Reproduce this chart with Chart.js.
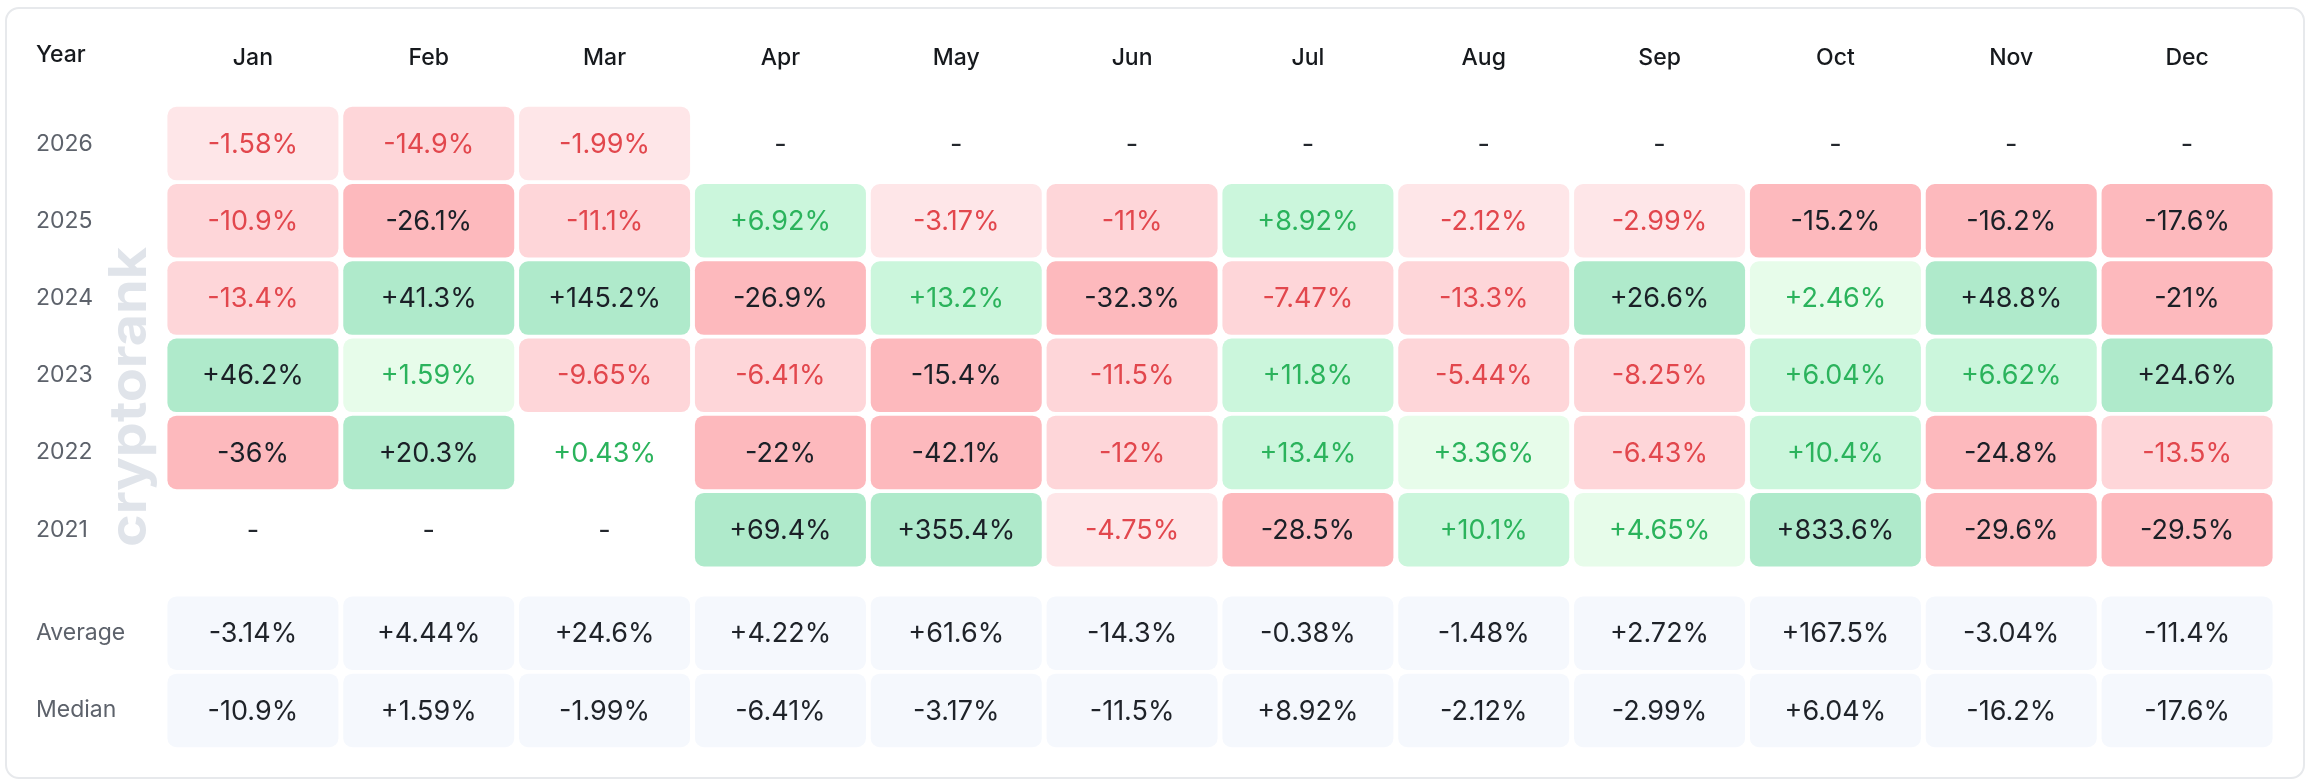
<!DOCTYPE html>
<html>
<head>
<meta charset="utf-8">
<script src="https://cdn.jsdelivr.net/npm/chart.js@4.4.1/dist/chart.umd.min.js"></script>
<style>
  html, body { margin: 0; padding: 0; background: #ffffff; }
  #wrap { position: relative; width: 2314px; height: 784px; overflow: hidden; }
  #card { position: absolute; left: 5px; top: 7px; width: 2300px; height: 772px;
          border: 2px solid #e7e9ec; border-radius: 14px; box-sizing: border-box; background: #fff; }
  #c { position: absolute; left: 0; top: 0; }
</style>
</head>
<body>
<div id="wrap">
  <div id="card"></div>
  <canvas id="c" width="2314" height="784"></canvas>
</div>
<script>
// ---------------- data ----------------
const headerLabel = 'Year';
const months = ['Jan','Feb','Mar','Apr','May','Jun','Jul','Aug','Sep','Oct','Nov','Dec'];
const years = ['2026','2025','2024','2023','2022','2021'];
const v2026 = [-1.58, -14.9, -1.99, null, null, null, null, null, null, null, null, null];
const v2025 = [-10.9, -26.1, -11.1, 6.92, -3.17, -11, 8.92, -2.12, -2.99, -15.2, -16.2, -17.6];
const v2024 = [-13.4, 41.3, 145.2, -26.9, 13.2, -32.3, -7.47, -13.3, 26.6, 2.46, 48.8, -21];
const v2023 = [46.2, 1.59, -9.65, -6.41, -15.4, -11.5, 11.8, -5.44, -8.25, 6.04, 6.62, 24.6];
const v2022 = [-36, 20.3, 0.43, -22, -42.1, -12, 13.4, 3.36, -6.43, 10.4, -24.8, -13.5];
const v2021 = [null, null, null, 69.4, 355.4, -4.75, -28.5, 10.1, 4.65, 833.6, -29.6, -29.5];
const summaryLabels = ['Average', 'Median'];
const averageRow = [-3.14, 4.44, 24.6, 4.22, 61.6, -14.3, -0.38, -1.48, 2.72, 167.5, -3.04, -11.4];
const medianRow = [-10.9, 1.59, -1.99, -6.41, -3.17, -11.5, 8.92, -2.12, -2.99, 6.04, -16.2, -17.6];
const yearRows = [v2026, v2025, v2024, v2023, v2022, v2021];
const summaryRows = [averageRow, medianRow];

// ---------------- layout (row positions on the y scale) ----------------
const HEADER_POS = -0.146;
const ROW_POS = [1, 2, 3, 4, 5, 6];
const SUMMARY_POS = [7.34, 8.34];
const HALF = 0.476;

const FONT = 'Inter, "Noto Sans", "DejaVu Sans", sans-serif';

function cellStyle(v) {
  if (v >= 15) return { bg: '#afeacb', fg: '#1b2027' };
  if (v >= 5)  return { bg: '#cbf6dc', fg: '#2bb35c' };
  if (v >= 1)  return { bg: '#e7fcea', fg: '#2bb35c' };
  if (v >= 0)  return { bg: 'rgba(255,255,255,0)', fg: '#2bb35c' };
  if (v > -5)  return { bg: '#fee6e8', fg: '#e2474d' };
  if (v > -15) return { bg: '#fed6d9', fg: '#e2474d' };
  return { bg: '#fdb9bd', fg: '#1b2027' };
}
function fmt(v) { return (v > 0 ? '+' : '') + String(v) + '%'; }
function rangeData(vals, pos) { return vals.map(v => v === null ? null : [pos - HALF, pos + HALF]); }

const datasets = [];
yearRows.forEach((vals, r) => {
  datasets.push({
    label: years[r],
    data: rangeData(vals, ROW_POS[r]),
    backgroundColor: vals.map(v => v === null ? 'rgba(0,0,0,0)' : cellStyle(v).bg),
    values: vals, pos: ROW_POS[r], summary: false
  });
});
summaryRows.forEach((vals, r) => {
  datasets.push({
    label: summaryLabels[r],
    data: rangeData(vals, SUMMARY_POS[r]),
    backgroundColor: '#f5f8fd',
    values: vals, pos: SUMMARY_POS[r], summary: true
  });
});
datasets.forEach(ds => {
  ds.grouped = false;
  ds.barPercentage = 0.9725;
  ds.categoryPercentage = 1;
  ds.borderRadius = 9;
  ds.borderSkipped = false;
  ds.borderWidth = 0;
});

const tickValues = [HEADER_POS].concat(ROW_POS, SUMMARY_POS);
const tickLabels = [headerLabel].concat(years, summaryLabels);

const cellText = {
  id: 'cellText',
  afterDatasetsDraw(chart) {
    const { ctx } = chart;
    const xs = chart.scales.x, ys = chart.scales.y;
    ctx.save();
    ctx.textAlign = 'center';
    ctx.textBaseline = 'middle';
    ctx.font = '400 27px ' + FONT;
    chart.data.datasets.forEach(ds => {
      const py = ys.getPixelForValue(ds.pos);
      ds.values.forEach((v, i) => {
        const px = xs.getPixelForValue(i);
        let txt, col;
        if (v === null) { txt = '-'; col = '#23272d'; }
        else { txt = fmt(v); col = ds.summary ? '#1f2329' : cellStyle(v).fg; }
        ctx.fillStyle = col;
        ctx.fillText(txt, px, py + 1);
      });
    });
    ctx.restore();
  }
};

const watermark = {
  id: 'watermark',
  beforeDatasetsDraw(chart) {
    const { ctx } = chart;
    ctx.save();
    ctx.translate(130, 397);
    ctx.rotate(-Math.PI / 2);
    ctx.font = '700 52px ' + FONT;
    const w = ctx.measureText('cryptorank').width;
    ctx.scale(300 / w, 1);
    ctx.fillStyle = '#e0e4ea';
    ctx.textAlign = 'center';
    ctx.textBaseline = 'middle';
    ctx.fillText('cryptorank', 0, 0);
    ctx.restore();
  }
};

new Chart(document.getElementById('c'), {
  type: 'bar',
  data: { labels: months, datasets },
  plugins: [watermark, cellText],
  options: {
    responsive: false,
    devicePixelRatio: 1,
    animation: false,
    layout: { padding: { left: 36, right: 39, top: 0, bottom: 35 } },
    plugins: { legend: { display: false }, tooltip: { enabled: false } },
    scales: {
      x: {
        type: 'category',
        position: 'top',
        offset: true,
        grid: { display: false },
        border: { display: false },
        ticks: {
          color: '#16191d',
          font: { family: FONT, size: 23, weight: '500' },
          padding: 25,
          maxRotation: 0,
          autoSkip: false
        },
        afterFit(scale) { scale.height = 105; }
      },
      y: {
        type: 'linear',
        reverse: true,
        min: 0.5,
        max: 8.84,
        grid: { display: false },
        border: { display: false },
        afterBuildTicks(scale) { scale.ticks = tickValues.map(v => ({ value: v })); },
        afterFit(scale) { scale.width = 129; },
        ticks: {
          autoSkip: false,
          crossAlign: 'far',
          padding: 0,
          callback: (value, index) => tickLabels[index],
          color: (ctx) => ctx.index === 0 ? '#16191d' : '#5d626b',
          font: (ctx) => ({ family: FONT, size: 23, weight: ctx.index === 0 ? '500' : '400' })
        }
      }
    }
  }
});
</script>
</body>
</html>
